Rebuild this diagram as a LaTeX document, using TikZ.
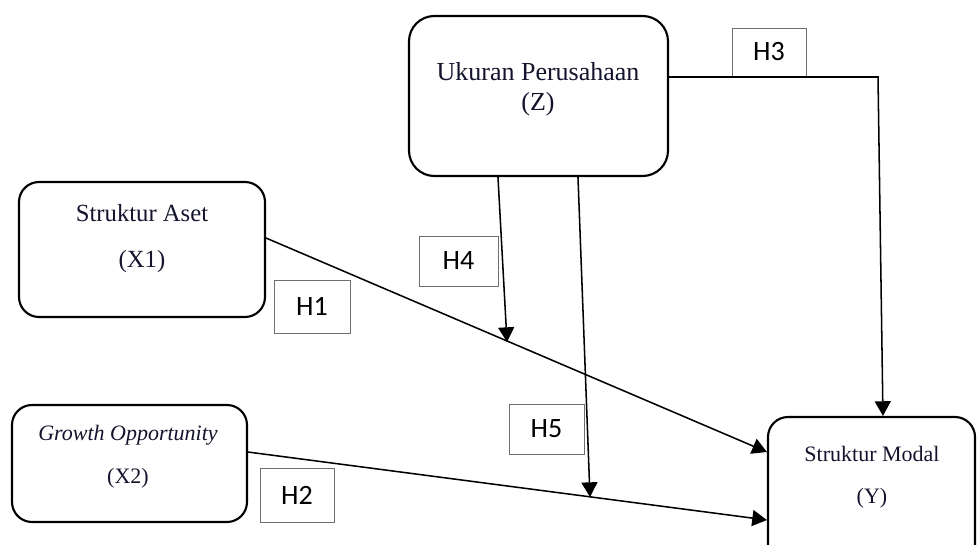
\documentclass[tikz,border=0pt]{standalone}
\usepackage{fontspec}
\setmainfont{Liberation Serif}
\newfontfamily\hfont{Carlito}
\usetikzlibrary{arrows.meta}
\definecolor{txt}{RGB}{20,20,45}
\definecolor{hgray}{RGB}{110,110,110}
\tikzset{
  varbox/.style={draw=black, line width=1.6pt, fill=white, inner sep=0pt},
  hbox/.style={draw=hgray, line width=0.6pt, fill=white, inner sep=0pt, font=\hfont\fontsize{21}{24}\selectfont},
  lbl/.style={inner sep=0pt, text=txt},
  conn/.style={line width=1.15pt, draw=black},
  arr/.style={conn, -{Triangle[length=11pt,width=12pt]}}
}
\begin{document}
\begin{tikzpicture}[x=0.75pt,y=-0.75pt]
\useasboundingbox (0,0) rectangle (977,545);
\fill[white] (0,0) rectangle (977,545);
% variable boxes
\node[varbox, rounded corners=19pt, minimum width=194.25pt, minimum height=120pt] (z) at (538.5,96) {};
\node[varbox, rounded corners=15pt, minimum width=184.5pt, minimum height=101.25pt] (x1) at (142,249.5) {};
\node[varbox, rounded corners=15pt, minimum width=176.25pt, minimum height=87.75pt] (x2) at (129.5,463.5) {};
\node[varbox, rounded corners=15pt, minimum width=155.25pt, minimum height=112.5pt] (y) at (871.5,492) {};
% box texts
\node[lbl, font=\fontsize{19.5}{22}\selectfont] (zt1) at (538,72) {Ukuran Perusahaan};
\node[lbl, font=\fontsize{19.5}{22}\selectfont] (zt2) at (538,104) {(Z)};
\node[lbl, font=\fontsize{18.5}{22}\selectfont] (x1t1) at (142,213) {Struktur Aset};
\node[lbl, font=\fontsize{18.5}{22}\selectfont] (x1t2) at (142,262) {(X1)};
\node[lbl, font=\itshape\fontsize{16.5}{20}\selectfont] (x2t1) at (128,435) {Growth Opportunity};
\node[lbl, font=\fontsize{16.5}{20}\selectfont] (x2t2) at (128,478) {(X2)};
\node[lbl, font=\fontsize{16.5}{20}\selectfont] (yt1) at (872,454) {Struktur Modal};
\node[lbl, font=\fontsize{16.5}{20}\selectfont] (yt2) at (872,498) {(Y)};
% hypothesis labels
\node[hbox, minimum width=57pt, minimum height=39.75pt] (h1) at (312,306.5) {H1};
\node[hbox, minimum width=55.5pt, minimum height=40.5pt] (h2) at (297,495) {H2};
\node[hbox, minimum width=55.5pt, minimum height=36pt] (h3) at (769,52) {H3};
\node[hbox, minimum width=59.25pt, minimum height=37.5pt] (h4) at (458.5,261) {H4};
\node[hbox, minimum width=56.25pt, minimum height=37.5pt] (h5) at (546.5,429) {H5};
% connectors
\coordinate (c3) at (878,77);
\coordinate (m4) at (507,342);
\coordinate (m5) at (590,497);
\draw[arr] ([yshift=14.25pt]z.east) -- (c3) -- ([xshift=8.6pt]y.north);
\draw[arr] ([yshift=8.6pt]x1.east) -- ([yshift=30pt]y.west);
\draw[arr] ([yshift=8.6pt]x2.east) -- ([yshift=-21pt]y.west);
\draw[arr] ([xshift=-30.4pt]z.south) -- (m4);
\draw[arr] ([xshift=29.6pt]z.south) -- (m5);
\end{tikzpicture}
\end{document}
